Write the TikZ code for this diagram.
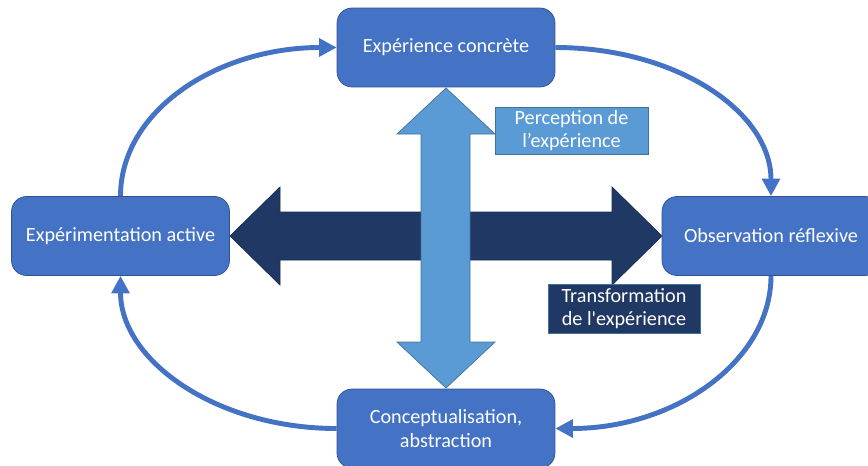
\documentclass[tikz,border=0pt]{standalone}
\usepackage{fontspec}
\setmainfont{Carlito}
\usetikzlibrary{arrows.meta}
\definecolor{boxblue}{HTML}{4472C4}
\definecolor{boxedge}{HTML}{2F528F}
\definecolor{lightblue}{HTML}{5B9BD5}
\definecolor{lightedge}{HTML}{41719C}
\definecolor{navy}{HTML}{203864}
\tikzstyle{stage}=[rectangle,rounded corners=0.3cm,fill=boxblue,draw=boxedge,text=white,minimum width=4.36cm,minimum height=1.58cm,align=center,font=\fontsize{11.5}{13.5}\selectfont]
\tikzstyle{axislabel}=[rectangle,text=white,align=center,inner sep=2pt,font=\fontsize{11.5}{13}\selectfont]
\tikzstyle{cyclearrow}=[draw=boxblue,line width=2.8pt,-{Triangle[length=10pt,width=10pt]}]

\begin{document}
\begin{tikzpicture}[x=0.02cm,y=-0.02cm]
  \useasboundingbox (0,0) rectangle (868,466);
  \clip (0,0) rectangle (868,466);

    % big double arrows
    \draw[fill=navy,draw=navy!80!black,line width=0.4pt] (230,236) -- (280,187) -- (280,212) -- (612,212) -- (612,187) -- (662,236)
        -- (612,285) -- (612,260) -- (280,260) -- (280,285) -- cycle;
    \draw[fill=lightblue,draw=lightedge,line width=0.4pt] (446,88) -- (495,134) -- (470,134) -- (470,342) -- (495,342) -- (446,388)
        -- (397,342) -- (421,342) -- (421,134) -- (397,134) -- cycle;

    \node[axislabel,fill=lightblue,draw=lightedge,minimum width=3.06cm,minimum height=0.94cm] (perc) at (571.5,130.5) {Perception de\\l’expérience};
    \node[axislabel,fill=navy,draw=lightedge,minimum width=3.04cm,minimum height=0.98cm] (trans) at (624,308.5) {Transformation\\de l\textquotesingle expérience};

    \foreach \pos/ \name/ \txt in {{(446,47.5)/conc/{Expérience concrète}},{(771,236)/obs/{Observation réflexive}},
        {(446,428.5)/abst/{Conceptualisation,\\abstraction}},{(120.5,236)/act/{Expérimentation active}}}
        \node[stage] (\name) at \pos {\txt};

    % the learning cycle
    \draw[cyclearrow] (act.north) .. controls +(0,-85) and +(-120,0) .. (conc.west);
    \draw[cyclearrow] (conc.east) .. controls +(120,0) and +(0,-85) .. (obs.north);
    \draw[cyclearrow] (obs.south) .. controls +(0,85) and +(120,0) .. (abst.east);
    \draw[cyclearrow] (abst.west) .. controls +(-120,0) and +(0,85) .. (act.south);

\end{tikzpicture}
\end{document}
